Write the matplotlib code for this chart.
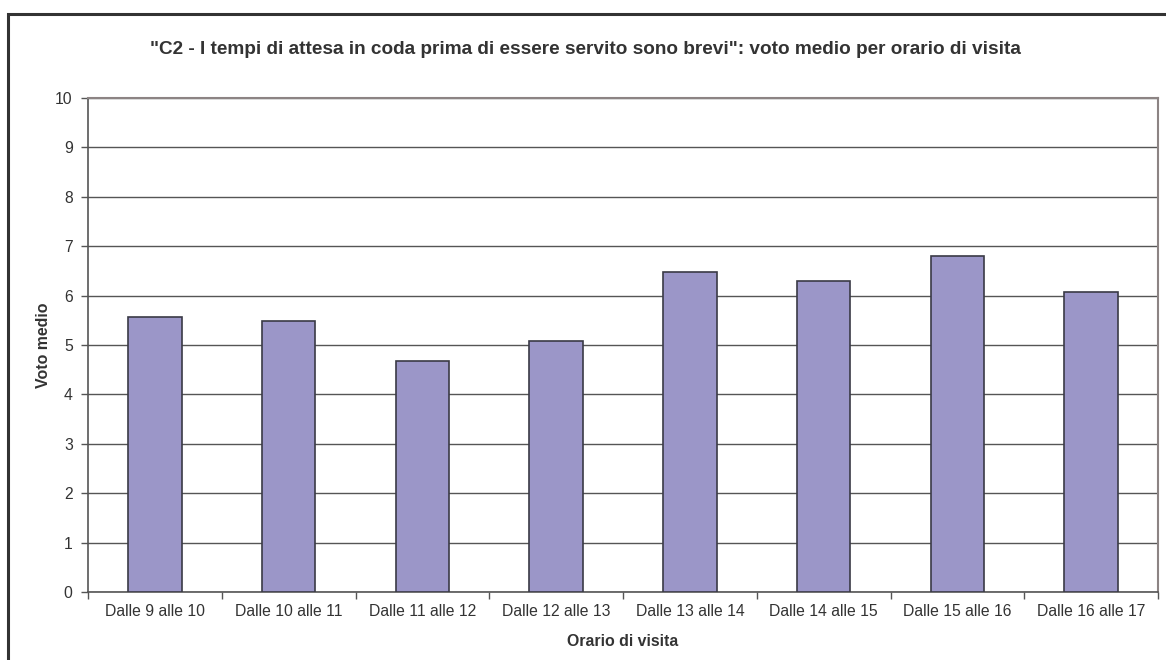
import matplotlib.pyplot as plt
from matplotlib.patches import Rectangle
import numpy as np

# average score per visiting time slot
FASCE = ['Dalle 9 alle 10', 'Dalle 10 alle 11', 'Dalle 11 alle 12',
         'Dalle 12 alle 13', 'Dalle 13 alle 14', 'Dalle 14 alle 15',
         'Dalle 15 alle 16', 'Dalle 16 alle 17']
VOTI = [5.57, 5.49, 4.67, 5.08, 6.47, 6.30, 6.81, 6.07]

TITOLO = ('"C2 - I tempi di attesa in coda prima di essere servito sono brevi": '
          'voto medio per orario di visita')

plt.rcParams['font.family'] = ['Liberation Sans', 'DejaVu Sans']
TXT = '#333333'

fig = plt.figure(figsize=(11.66, 6.6), dpi=100)
ax = fig.add_axes([88 / 1166, 1 - 592 / 660, 1070 / 1166, 494 / 660])

# outer chart frame (open on right and bottom)
fig.patches.append(Rectangle((8 / 1166, -0.1), 1.2, (660 - 14) / 660 + 0.1,
                             transform=fig.transFigure, fill=False,
                             edgecolor='#333333', linewidth=2.2))

xpos = np.arange(len(FASCE))
ax.bar(xpos, VOTI, width=0.4, color='#9b96c8', edgecolor='#3a3a46',
       linewidth=1.2, zorder=3)

ax.set_xlim(-0.5, len(FASCE) - 0.5)
ax.set_ylim(0, 10)
ax.set_yticks(range(0, 11))
ax.yaxis.grid(True, color='#555555', linewidth=1.0, zorder=0)

# category labels centred, tick marks between categories
ax.set_xticks(xpos)
ax.set_xticklabels(FASCE, fontsize=11.3, color=TXT)
ax.set_xticks(np.arange(-0.5, len(FASCE)), minor=True)
ax.tick_params(axis='x', which='major', length=0, pad=8.5)
ax.tick_params(axis='x', which='minor', length=5, width=1, color='#555555',
               direction='out')
ax.tick_params(axis='y', length=5, width=1, color='#555555', labelsize=11.3,
               labelcolor=TXT, pad=6)

for side in ['left', 'bottom']:
    ax.spines[side].set_color('#555555')
    ax.spines[side].set_linewidth(1.2)
for side in ['top', 'right']:
    ax.spines[side].set_color('#8c8484')
    ax.spines[side].set_linewidth(1.5)

ax.set_xlabel('Orario di visita', fontsize=11.4, fontweight='bold', color=TXT,
              labelpad=11)
ax.set_ylabel('Voto medio', fontsize=11.4, fontweight='bold', color=TXT,
              labelpad=3)
fig.text(585 / 1166, 1 - 50 / 660, TITOLO, ha='center', va='center',
         fontsize=13.7, fontweight='bold', color=TXT)

plt.savefig('out.png', dpi=100)
